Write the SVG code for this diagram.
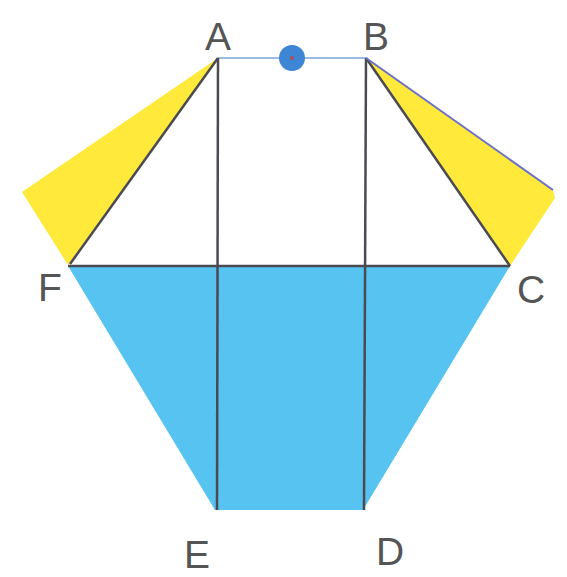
<svg xmlns="http://www.w3.org/2000/svg" width="567" height="577" viewBox="0 0 567 577">
<style>
.lbl{font-family:"Liberation Sans",Arial,sans-serif;font-size:39px;fill:#555;text-anchor:middle}
.ln{stroke:#4a4a52;stroke-width:2.5;fill:none}
</style>
<rect width="567" height="577" fill="#fff"/>
<g id="yellow-left"><polygon points="218,58 22,192 68,265" fill="#ffe93a"/></g>
<g id="yellow-right"><polygon points="366,58 553,190 555,198 510,266" fill="#ffe93a"/></g>
<g id="water"><polygon points="68,266 510,266 363,510 215,510" fill="#56c3f1"/></g>
<g id="connectors">
<line x1="218" y1="58" x2="366" y2="58" stroke="#7aa6d8" stroke-width="1.5"/>
<line class="ln" x1="218" y1="58" x2="217" y2="510"/>
<line class="ln" x1="366" y1="58" x2="364" y2="510"/>
<line class="ln" x1="68" y1="266" x2="510" y2="266"/>
<line class="ln" x1="218" y1="58" x2="70" y2="264"/>
<line class="ln" x1="366" y1="58" x2="510" y2="266"/>
<line x1="366" y1="58" x2="553" y2="190" stroke="#6a70c8" stroke-width="2"/>
</g>
<g id="dot"><circle cx="292" cy="58" r="13" fill="#3d86d6"/><circle cx="292" cy="58" r="2" fill="#b05050"/></g>
<g id="labels">
<text class="lbl" x="218" y="50">A</text>
<text class="lbl" x="376" y="50">B</text>
<text class="lbl" x="50" y="301">F</text>
<text class="lbl" x="531" y="303">C</text>
<text class="lbl" x="197" y="568">E</text>
<text class="lbl" x="390" y="565">D</text>
</g>
</svg>
